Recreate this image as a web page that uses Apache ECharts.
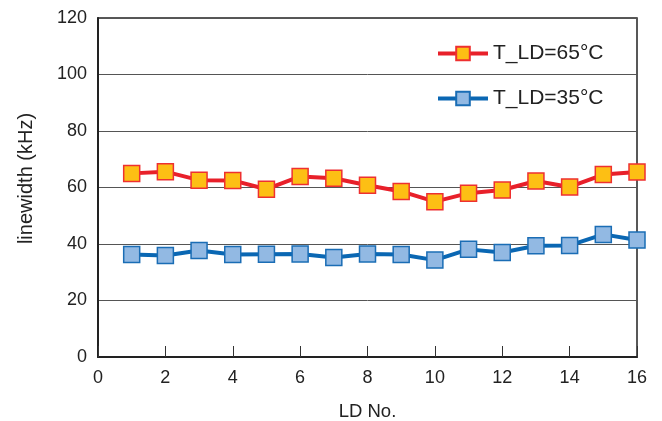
<!DOCTYPE html>
<html>
<head>
<meta charset="utf-8">
<script src="https://cdn.jsdelivr.net/npm/echarts@6/dist/echarts.min.js"></script>
<style>
  html, body { margin: 0; padding: 0; background: #fff; }
  #chart { width: 662px; height: 421px; }
</style>
</head>
<body>
<div id="chart"></div>
<script>
// LD numbers
var ldNo = [1, 2, 3, 4, 5, 6, 7, 8, 9, 10, 11, 12, 13, 14, 15, 16]
// linewidth (kHz) at T_LD = 65°C
var hot = [65.0, 65.6, 62.6, 62.5, 59.4, 63.9, 63.3, 60.8, 58.6, 55.0, 58.0, 59.1, 62.3, 60.2, 64.6, 65.5]
// linewidth (kHz) at T_LD = 35°C
var cold = [36.3, 35.9, 37.7, 36.3, 36.4, 36.5, 35.2, 36.5, 36.3, 34.3, 38.1, 37.0, 39.4, 39.5, 43.4, 41.4]
var xTicks = [0, 2, 4, 6, 8, 10, 12, 14, 16]
var yTicks = [0, 20, 40, 60, 80, 100, 120]

var textColor = '#222'
var font = 'Liberation Sans, Arial, sans-serif'

function pairs (xs, ys) {
  return xs.map(function (x, i) { return [x, ys[i]] })
}

var chart = echarts.init(document.getElementById('chart'))
chart.setOption({
  backgroundColor: '#fff',
  animation: false,
  textStyle: { fontFamily: font },
  grid: {
    left: 98,
    right: 25,
    top: 18,
    bottom: 64,
    outerBoundsMode: 'none',
    show: true,
    borderColor: '#222',
    borderWidth: 1.5
  },
  legend: {
    orient: 'vertical',
    left: 431,
    top: 38,
    itemWidth: 50,
    itemHeight: 17,
    itemGap: 24,
    lineStyle: { width: 4 },
    textStyle: { color: textColor, fontSize: 21, fontFamily: font },
    data: ['T_LD=65°C', 'T_LD=35°C']
  },
  xAxis: {
    type: 'value',
    min: xTicks[0],
    max: xTicks[xTicks.length - 1],
    interval: 2,
    name: 'LD No.',
    nameLocation: 'middle',
    nameGap: 45,
    nameTextStyle: { color: textColor, fontSize: 18.5 },
    axisLine: { show: true, lineStyle: { color: '#222', width: 2 } },
    axisTick: { show: true, inside: true, length: 11, lineStyle: { color: '#333', width: 1 } },
    axisLabel: { color: textColor, fontSize: 18, margin: 12 },
    splitLine: { show: false }
  },
  yAxis: {
    type: 'value',
    min: yTicks[0],
    max: yTicks[yTicks.length - 1],
    interval: 20,
    name: 'linewidth (kHz)',
    nameLocation: 'middle',
    nameGap: 62,
    nameTextStyle: { color: textColor, fontSize: 20, padding: [0, 0, 0, 18] },
    axisLine: { show: true, lineStyle: { color: '#222', width: 2 } },
    axisTick: { show: false },
    axisLabel: { color: textColor, fontSize: 18, margin: 11 },
    splitLine: { show: true, lineStyle: { color: '#555', width: 1 } }
  },
  series: [
    {
      name: 'T_LD=65°C',
      type: 'line',
      data: pairs(ldNo, hot),
      symbol: 'rect',
      symbolSize: 16,
      lineStyle: { color: '#e8202a', width: 4 },
      itemStyle: { color: '#fdbf14', borderColor: '#ee3030', borderWidth: 1.5 },
      z: 3
    },
    {
      name: 'T_LD=35°C',
      type: 'line',
      data: pairs(ldNo, cold),
      symbol: 'rect',
      symbolSize: 16,
      lineStyle: { color: '#0a67b3', width: 4 },
      itemStyle: { color: '#92b9e3', borderColor: '#1a6db5', borderWidth: 1.5 },
      z: 3
    }
  ]
})
</script>
</body>
</html>
